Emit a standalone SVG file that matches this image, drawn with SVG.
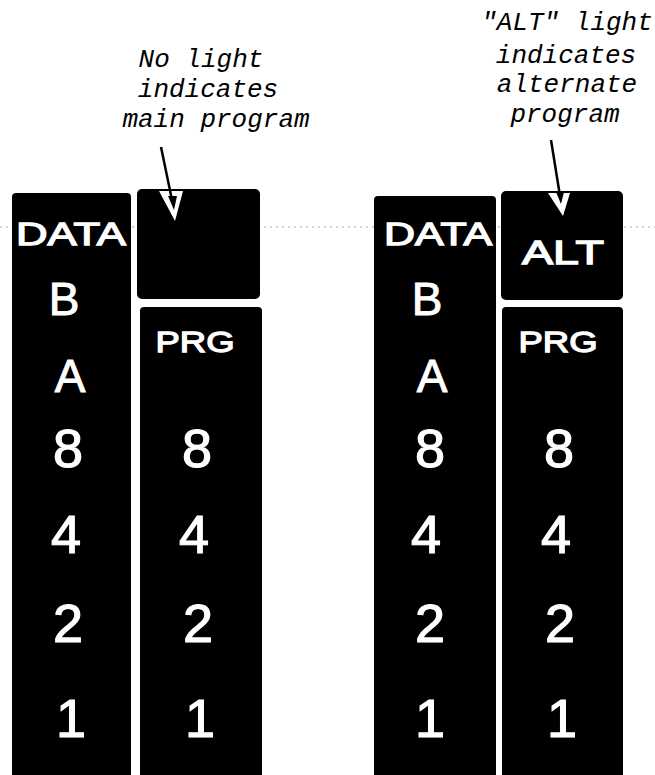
<svg xmlns="http://www.w3.org/2000/svg" width="655" height="775" viewBox="0 0 655 775">
<style>
.panel{fill:#000}
.lbl{fill:#fff;stroke:#fff;stroke-width:1.3;font-family:"Liberation Sans",Arial,sans-serif;text-anchor:middle}
.big{fill:#fff;stroke:#fff;stroke-width:1.2;font-family:"Liberation Sans",Arial,sans-serif;font-size:54px;text-anchor:middle}
.let{fill:#fff;stroke:#fff;stroke-width:1;font-family:"Liberation Sans",Arial,sans-serif;font-size:46px;text-anchor:middle}
.note{fill:#000;font-family:"Liberation Mono","Courier New",monospace;font-style:italic;font-size:26px;text-anchor:middle}
.shaft{stroke:#000;stroke-width:2.5;fill:none}
</style>
<rect width="655" height="775" fill="#fff"/>
<line x1="0" y1="227" x2="655" y2="227" stroke="#aaa" stroke-width="1" stroke-dasharray="2,4"/>

<g id="left-data">
<rect class="panel" x="12" y="193" width="119" height="600" rx="4"/>
<text class="lbl" x="71" y="245" font-size="32" textLength="110" lengthAdjust="spacingAndGlyphs">DATA</text>
<text class="let" x="64" y="315">B</text>
<text class="let" x="70" y="392">A</text>
<text class="big" x="68" y="467">8</text>
<text class="big" x="66" y="553">4</text>
<text class="big" x="68" y="642">2</text>
<text class="big" x="71" y="737">1</text>
</g>

<g id="left-light">
<rect class="panel" x="137" y="189" width="123" height="110" rx="5"/>
</g>

<g id="left-prg">
<rect class="panel" x="140" y="307" width="122" height="490" rx="4"/>
<text class="lbl" x="195" y="352" font-size="30" textLength="79" lengthAdjust="spacingAndGlyphs">PRG</text>
<text class="big" x="197" y="467">8</text>
<text class="big" x="194" y="553">4</text>
<text class="big" x="198" y="642">2</text>
<text class="big" x="200" y="737">1</text>
</g>

<g id="right-data">
<rect class="panel" x="374" y="196" width="122" height="600" rx="4"/>
<text class="lbl" x="438" y="245" font-size="32" textLength="108" lengthAdjust="spacingAndGlyphs">DATA</text>
<text class="let" x="427" y="315">B</text>
<text class="let" x="432" y="392">A</text>
<text class="big" x="430" y="467">8</text>
<text class="big" x="426" y="553">4</text>
<text class="big" x="430" y="642">2</text>
<text class="big" x="430" y="737">1</text>
</g>

<g id="right-alt">
<rect class="panel" x="501" y="191" width="122" height="109" rx="5"/>
<text class="lbl" x="563" y="264" font-size="33" textLength="82" lengthAdjust="spacingAndGlyphs">ALT</text>
</g>

<g id="right-prg">
<rect class="panel" x="502" y="307" width="121" height="490" rx="4"/>
<text class="lbl" x="558" y="352" font-size="30" textLength="79" lengthAdjust="spacingAndGlyphs">PRG</text>
<text class="big" x="559" y="467">8</text>
<text class="big" x="556" y="553">4</text>
<text class="big" x="560" y="642">2</text>
<text class="big" x="562" y="737">1</text>
</g>

<g id="note-left">
<text class="note" x="201" y="67">No light</text>
<text class="note" x="208" y="97">indicates</text>
<text class="note" x="216" y="127">main program</text>
</g>

<g id="note-right">
<text class="note" x="567" y="30">"ALT" light</text>
<text class="note" x="566" y="63">indicates</text>
<text class="note" x="567" y="92">alternate</text>
<text class="note" x="565" y="122">program</text>
</g>

<g id="connectors">
<polygon points="159,191 183,191 175,221" fill="#fff"/>
<line class="shaft" x1="161" y1="147" x2="172" y2="200"/>
<polygon points="168,196 177,196 174,210" fill="#000"/>
<polygon points="548,193 570,193 563,216" fill="#fff"/>
<line class="shaft" x1="551" y1="140" x2="560" y2="196"/>
<polygon points="556,192 564,192 561,204" fill="#000"/>
</g>
</svg>
